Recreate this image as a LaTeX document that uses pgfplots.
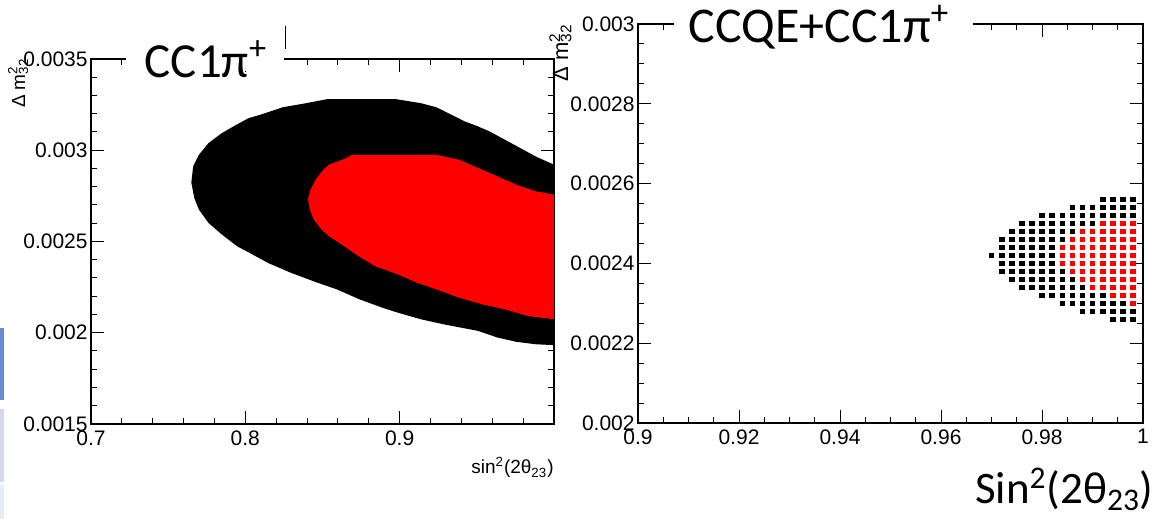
\documentclass[border=0pt]{standalone}
\usepackage{fontspec}
\setmainfont{Liberation Sans}
\newfontfamily\carlito{Carlito}
\usepackage{pgfplots}
\pgfplotsset{compat=1.18}
\definecolor{rootred}{RGB}{255,0,0}
\definecolor{slideblue}{RGB}{106,138,214}
\definecolor{slidelight}{RGB}{211,218,240}
\definecolor{slidelighter}{RGB}{232,236,247}
\pgfplotsset{rootstyle/.style={
  scale only axis, anchor=south west,
  axis line style={line width=1.2pt},
  tick style={line width=0.5pt,black},
  major tick length=6.5pt, minor tick length=3.2pt,
  ticklabel style={font=\fontsize{10.5}{12}\selectfont},
  yticklabel style={inner xsep=1.5pt},
  xticklabel style={inner ysep=3pt},
  scaled ticks=false,
}}
\begin{document}
\begin{tikzpicture}
\path[use as bounding box] (0,0) rectangle (586.5pt,259.5pt);
% slide remnants at the left edge
\fill[slideblue] (0,59.5pt) rectangle (2pt,95.5pt);
\fill[slidelight] (0,18.5pt) rectangle (2pt,55pt);
\fill[slidelighter] (0,0) rectangle (2pt,17pt);

% ---------- left panel ----------
\begin{axis}[rootstyle, at={(45.5pt,47.5pt)},
  width=231.5pt, height=182.5pt,
  xmin=0.7, xmax=1, ymin=0.0015, ymax=0.0035,
  xtick={0.7,0.8,0.9,1}, xticklabels={0.7,0.8,0.9,{}},
  ytick={0.0015,0.002,0.0025,0.003,0.0035},
  yticklabels={0.0015,0.002,0.0025,0.003,0.0035},
  minor x tick num=4, minor y tick num=4]
\addplot[fill=black, draw=none] coordinates {
(0.765,0.002824) (0.7662,0.002912) (0.7699,0.002975) (0.7761,0.003039) (0.7848,0.003094)
(0.7922,0.00313) (0.8021,0.003176) (0.8096,0.003194) (0.8245,0.003236) (0.8369,0.003254)
(0.853,0.00328) (0.8976,0.00328) (0.9137,0.003258) (0.9236,0.003236) (0.9336,0.003194)
(0.9422,0.003158) (0.9509,0.00313) (0.9583,0.003103) (0.9683,0.003057) (0.9782,0.003012)
(0.9881,0.002966) (1.0,0.002921) (1.01,0.0029) (1.01,0.00193) (1.0,0.001932)
(0.9881,0.001937) (0.9757,0.00195) (0.9633,0.001974) (0.9509,0.00201) (0.9286,0.002046)
(0.9137,0.002074) (0.8988,0.00211) (0.8889,0.002137) (0.874,0.002183) (0.8592,0.002238)
(0.8468,0.002274) (0.8294,0.002329) (0.8146,0.002383) (0.8046,0.002429) (0.7947,0.002474)
(0.7848,0.002538) (0.7761,0.002602) (0.7699,0.002675) (0.7669,0.002739)
};
\addplot[fill=rootred, draw=none] coordinates {
(0.8406,0.00273) (0.8418,0.002775) (0.8455,0.002839) (0.8505,0.002893) (0.8542,0.002921)
(0.8641,0.002952) (0.8691,0.002975) (0.9236,0.002975) (0.9385,0.002948) (0.9484,0.002912)
(0.9633,0.002857) (0.9757,0.002811) (0.9881,0.002775) (1.0,0.002757) (1.01,0.00275)
(1.01,0.00207) (1.0,0.002074) (0.9831,0.002092) (0.9683,0.002128) (0.9534,0.002156)
(0.9385,0.002192) (0.9236,0.002238) (0.9112,0.002274) (0.8988,0.00232) (0.884,0.002365)
(0.8716,0.002429) (0.8641,0.002474) (0.8542,0.002529) (0.8493,0.002566) (0.8443,0.00262)
(0.8418,0.002675)
};
\end{axis}

% ---------- right panel ----------
\begin{axis}[rootstyle, at={(319pt,48pt)},
  width=252.5pt, height=199.5pt,
  xmin=0.9, xmax=1, ymin=0.002, ymax=0.003,
  xtick={0.9,0.92,0.94,0.96,0.98,1}, xticklabels={0.9,0.92,0.94,0.96,0.98,1},
  ytick={0.002,0.0022,0.0024,0.0026,0.0028,0.003},
  yticklabels={0.002,0.0022,0.0024,0.0026,0.0028,0.003},
  minor x tick num=3, minor y tick num=3]
\addplot[only marks, mark=square*, mark size=1.15pt, black] coordinates {
(0.992,0.00256) (0.994,0.00256) (0.996,0.00256) (0.998,0.00256)
(0.986,0.00254) (0.988,0.00254) (0.990,0.00254) (0.992,0.00254) (0.994,0.00254) (0.996,0.00254) (0.998,0.00254)
(0.980,0.00252) (0.982,0.00252) (0.984,0.00252) (0.986,0.00252) (0.988,0.00252) (0.990,0.00252) (0.992,0.00252) (0.994,0.00252) (0.996,0.00252) (0.998,0.00252)
(0.976,0.00250) (0.978,0.00250) (0.980,0.00250) (0.982,0.00250) (0.984,0.00250) (0.986,0.00250) (0.988,0.00250) (0.990,0.00250)
(0.974,0.00248) (0.976,0.00248) (0.978,0.00248) (0.980,0.00248) (0.982,0.00248) (0.984,0.00248) (0.986,0.00248)
(0.972,0.00246) (0.974,0.00246) (0.976,0.00246) (0.978,0.00246) (0.980,0.00246) (0.982,0.00246) (0.984,0.00246)
(0.972,0.00244) (0.974,0.00244) (0.976,0.00244) (0.978,0.00244) (0.980,0.00244) (0.982,0.00244)
(0.970,0.00242) (0.972,0.00242) (0.974,0.00242) (0.976,0.00242) (0.978,0.00242) (0.980,0.00242) (0.982,0.00242)
(0.972,0.00240) (0.974,0.00240) (0.976,0.00240) (0.978,0.00240) (0.980,0.00240) (0.982,0.00240)
(0.972,0.00238) (0.974,0.00238) (0.976,0.00238) (0.978,0.00238) (0.980,0.00238) (0.982,0.00238) (0.984,0.00238)
(0.974,0.00236) (0.976,0.00236) (0.978,0.00236) (0.980,0.00236) (0.982,0.00236) (0.984,0.00236) (0.986,0.00236)
(0.976,0.00234) (0.978,0.00234) (0.980,0.00234) (0.982,0.00234) (0.984,0.00234) (0.986,0.00234) (0.988,0.00234)
(0.980,0.00232) (0.982,0.00232) (0.984,0.00232) (0.986,0.00232) (0.988,0.00232) (0.990,0.00232) (0.992,0.00232)
(0.984,0.00230) (0.986,0.00230) (0.988,0.00230) (0.990,0.00230) (0.992,0.00230) (0.994,0.00230) (0.996,0.00230)
(0.988,0.00228) (0.990,0.00228) (0.992,0.00228) (0.994,0.00228) (0.996,0.00228) (0.998,0.00228)
(0.994,0.00226) (0.996,0.00226) (0.998,0.00226)
};
\addplot[only marks, mark=square*, mark size=1.15pt, rootred] coordinates {
(0.992,0.00250) (0.994,0.00250) (0.996,0.00250) (0.998,0.00250)
(0.988,0.00248) (0.990,0.00248) (0.992,0.00248) (0.994,0.00248) (0.996,0.00248) (0.998,0.00248)
(0.986,0.00246) (0.988,0.00246) (0.990,0.00246) (0.992,0.00246) (0.994,0.00246) (0.996,0.00246) (0.998,0.00246)
(0.984,0.00244) (0.986,0.00244) (0.988,0.00244) (0.990,0.00244) (0.992,0.00244) (0.994,0.00244) (0.996,0.00244) (0.998,0.00244)
(0.984,0.00242) (0.986,0.00242) (0.988,0.00242) (0.990,0.00242) (0.992,0.00242) (0.994,0.00242) (0.996,0.00242) (0.998,0.00242)
(0.984,0.00240) (0.986,0.00240) (0.988,0.00240) (0.990,0.00240) (0.992,0.00240) (0.994,0.00240) (0.996,0.00240) (0.998,0.00240)
(0.986,0.00238) (0.988,0.00238) (0.990,0.00238) (0.992,0.00238) (0.994,0.00238) (0.996,0.00238) (0.998,0.00238)
(0.988,0.00236) (0.990,0.00236) (0.992,0.00236) (0.994,0.00236) (0.996,0.00236) (0.998,0.00236)
(0.990,0.00234) (0.992,0.00234) (0.994,0.00234) (0.996,0.00234) (0.998,0.00234)
(0.994,0.00232) (0.996,0.00232) (0.998,0.00232)
(0.998,0.00230)
};
\end{axis}

% ---------- overlaid texts ----------
\fill[white] (63pt,224pt) rectangle (142pt,237pt);
\node[anchor=base, inner sep=0, font=\carlito\fontsize{24.5}{28}\selectfont] at (103pt,220.5pt) {CC1π\textsuperscript{+}};
\draw[line width=0.5pt] (142.5pt,246.5pt) -- (142.5pt,235pt);
\fill[white] (337pt,240.5pt) rectangle (486.5pt,256pt);
\node[anchor=base, inner sep=0, font=\carlito\fontsize{25}{29}\selectfont] at (409.5pt,238pt) {CCQE+CC1π\textsuperscript{+}};

\node[anchor=base east, inner sep=0, font=\fontsize{9.5}{10}\selectfont] at (277pt,22.5pt) {sin\textsuperscript{2}(2θ\textsubscript{23})};
\fill[white] (230pt,0) rectangle (280pt,20pt);
\node[anchor=base east, inner sep=0, font=\carlito\fontsize{22.5}{26}\selectfont] at (577pt,7.5pt) {Sin\textsuperscript{2}(2θ\textsubscript{23})};

\node[rotate=90, anchor=base east, inner sep=0, font=\fontsize{9.5}{10}\selectfont] at (12.5pt,230.5pt) {Δ m\rlap{\textsuperscript{2}}\textsubscript{32}};
\node[rotate=90, anchor=base east, inner sep=0, font=\fontsize{11}{12}\selectfont] at (284pt,247.5pt) {Δ m\rlap{\textsuperscript{2}}\textsubscript{32}};
\end{tikzpicture}
\end{document}
